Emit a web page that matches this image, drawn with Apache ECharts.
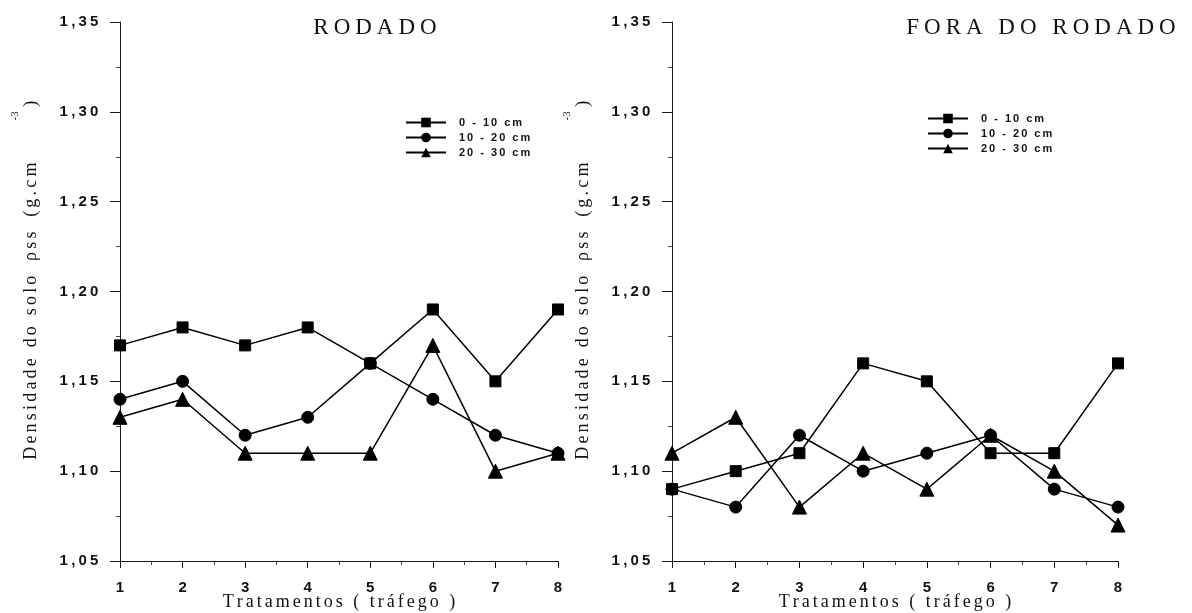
<!DOCTYPE html>
<html>
<head>
<meta charset="utf-8">
<script src="https://cdn.jsdelivr.net/npm/echarts@6/dist/echarts.min.js"></script>
<style>
  html, body { margin: 0; padding: 0; background: #fff; }
  #chart { width: 1192px; height: 613px; }
</style>
</head>
<body>
<div id="chart"></div>
<script>
// Tratamentos (tráfego) 1..8
const tratamentos = [1, 2, 3, 4, 5, 6, 7, 8];
const camadas = ['0 - 10 cm', '10 - 20 cm', '20 - 30 cm'];

// Densidade do solo (g.cm-3) — RODADO
const rodado_0_10  = [1.17, 1.18, 1.17, 1.18, 1.16, 1.19, 1.15, 1.19];
const rodado_10_20 = [1.14, 1.15, 1.12, 1.13, 1.16, 1.14, 1.12, 1.11];
const rodado_20_30 = [1.13, 1.14, 1.11, 1.11, 1.11, 1.17, 1.10, 1.11];

// Densidade do solo (g.cm-3) — FORA DO RODADO
const fora_0_10  = [1.09, 1.10, 1.11, 1.16, 1.15, 1.11, 1.11, 1.16];
const fora_10_20 = [1.09, 1.08, 1.12, 1.10, 1.11, 1.12, 1.09, 1.08];
const fora_20_30 = [1.11, 1.13, 1.08, 1.11, 1.09, 1.12, 1.10, 1.07];

const titulos = ['RODADO', 'FORA DO RODADO'];

const serif = '"Liberation Serif", "DejaVu Serif", serif';
const sans = '"Liberation Sans", Arial, sans-serif';

// Typewriter-like tracking: every character becomes its own rich token
// so each one can carry a little horizontal padding.
function tracked(str, style) {
  return Array.from(str).map(c => `{${style}|${c}}`).join('');
}

const symbols = ['rect', 'circle', 'triangle'];
const symbolSizes = [11, 12, 14];

function pairs(vals) { return tratamentos.map((t, i) => [t, vals[i]]); }

function makeSeries(valsList, idx) {
  return valsList.map((vals, k) => ({
    type: 'line',
    name: camadas[k],
    xAxisIndex: idx,
    yAxisIndex: idx,
    data: pairs(vals),
    symbol: symbols[k],
    symbolSize: symbolSizes[k],
    showAllSymbol: true,
    lineStyle: { color: '#000', width: 1.5 },
    itemStyle: { color: '#000', borderColor: '#000' },
    emphasis: { disabled: true },
    animation: false,
    z: 3 - k
  }));
}

function xAxis(idx) {
  return {
    type: 'value', gridIndex: idx, min: 1, max: 8, interval: 1,
    name: tracked('Tratamentos ( tráfego )', 'c'),
    nameLocation: 'middle', nameGap: 32, nameMoveOverlap: false,
    nameTextStyle: {
      fontFamily: serif, fontSize: 18, color: '#111',
      rich: { c: { fontFamily: serif, fontSize: 18, color: '#111', padding: [0, 1.5] } }
    },
    axisLine: { show: true, lineStyle: { color: '#1a1a1a', width: 1 } },
    axisTick: { show: true, length: 7, lineStyle: { color: '#1a1a1a' } },
    minorTick: { show: true, splitNumber: 2, length: 4, lineStyle: { color: '#444' } },
    axisLabel: { fontFamily: sans, fontWeight: 'bold', fontSize: 15, color: '#111', margin: 19 },
    splitLine: { show: false }
  };
}

const yNameText =
  '{g| }' + tracked('Densidade do solo', 'n') +
  '{g2| }' + tracked('ρss', 'n') +
  '{g2| }' + tracked('(g.cm', 'n') +
  '{g3| }' + '{sup|-3}' + '{n|)}';

function yAxis(idx) {
  return {
    type: 'value', gridIndex: idx, min: 1.05, max: 1.35, interval: 0.05,
    name: yNameText,
    nameLocation: 'middle', nameGap: 80, nameRotate: 90, nameMoveOverlap: false,
    nameTextStyle: {
      fontFamily: serif, fontSize: 18, color: '#111',
      rich: {
        n: { fontFamily: serif, fontSize: 18, color: '#111', padding: [0, 1.6], lineHeight: 18, verticalAlign: 'bottom' },
        g: { fontFamily: serif, fontSize: 18, padding: [0, 9], lineHeight: 30, verticalAlign: 'bottom' },
        g2: { fontFamily: serif, fontSize: 18, padding: [0, 3.5], lineHeight: 18, verticalAlign: 'bottom' },
        g3: { fontFamily: serif, fontSize: 18, padding: [0, 18], lineHeight: 18, verticalAlign: 'bottom' },
        sup: { fontFamily: serif, fontSize: 11, color: '#111', lineHeight: 11, verticalAlign: 'top', padding: [0, 3, 0, 0] }
      }
    },
    axisLine: { show: true, lineStyle: { color: '#1a1a1a', width: 1 } },
    axisTick: { show: true, length: 10, lineStyle: { color: '#1a1a1a' } },
    minorTick: { show: true, splitNumber: 2, length: 4, lineStyle: { color: '#444' } },
    axisLabel: {
      margin: 20,
      fontFamily: sans, fontWeight: 'bold', fontSize: 15, color: '#111',
      formatter: v => tracked(v.toFixed(2).replace('.', ','), 'd'),
      rich: { d: { fontFamily: sans, fontWeight: 'bold', fontSize: 15, color: '#111', padding: [0, 1.6] } }
    },
    splitLine: { show: false }
  };
}

function legend(left, top) {
  return {
    left: left, top: top, orient: 'vertical', itemGap: 4,
    itemWidth: 40, itemHeight: 12,
    data: camadas,
    selectedMode: false,
    formatter: name => tracked(name, 'l'),
    textStyle: {
      fontFamily: sans, fontWeight: 'bold', fontSize: 11, color: '#111', padding: [0, 0, 0, 7],
      rich: { l: { fontFamily: sans, fontWeight: 'bold', fontSize: 11, color: '#111', padding: [0, 1] } }
    },
    lineStyle: { color: '#000', width: 2 }
  };
}

function titulo(text, centerX) {
  return {
    text: tracked(text, 't'), left: centerX, top: 11, textAlign: 'center',
    textStyle: {
      fontFamily: serif, fontWeight: 'normal', fontSize: 23, color: '#111',
      rich: { t: { fontFamily: serif, fontSize: 23, color: '#111', padding: [0, 2.5] } }
    }
  };
}

const chart = echarts.init(document.getElementById('chart'), null, { renderer: 'canvas' });
chart.setOption({
  backgroundColor: '#fff',
  animation: false,
  title: [titulo(titulos[0], 370), titulo(titulos[1], 1036)],
  legend: [legend(400, 112), legend(922, 108)],
  grid: [
    { left: 120, right: 634, top: 22, bottom: 52, outerBoundsMode: 'none' },
    { left: 672, right: 74, top: 22, bottom: 52, outerBoundsMode: 'none' }
  ],
  xAxis: [xAxis(0), xAxis(1)],
  yAxis: [yAxis(0), yAxis(1)],
  series: [
    ...makeSeries([rodado_0_10, rodado_10_20, rodado_20_30], 0),
    ...makeSeries([fora_0_10, fora_10_20, fora_20_30], 1)
  ]
});
</script>
</body>
</html>
